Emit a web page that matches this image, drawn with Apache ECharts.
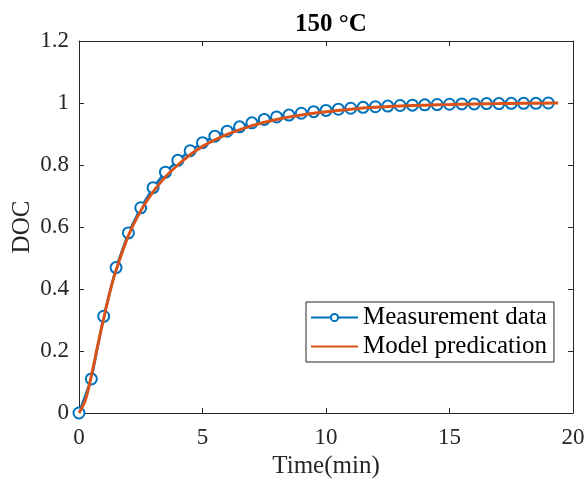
<!DOCTYPE html>
<html>
<head>
<meta charset="utf-8">
<script src="https://cdn.jsdelivr.net/npm/echarts@6/dist/echarts.min.js"></script>
<style>
  html, body { margin: 0; padding: 0; background: #fff; }
  #chart { width: 588px; height: 483px; }
</style>
</head>
<body>
<div id="chart"></div>
<script>
  // measurement data (every 0.5 min)
  const measTime = [0, 0.5, 1, 1.5, 2, 2.5, 3, 3.5, 4, 4.5, 5, 5.5, 6, 6.5, 7, 7.5, 8, 8.5, 9, 9.5,
    10, 10.5, 11, 11.5, 12, 12.5, 13, 13.5, 14, 14.5, 15, 15.5, 16, 16.5, 17, 17.5, 18, 18.5, 19]
  const measDoc = [0, 0.11, 0.312, 0.469, 0.581, 0.662, 0.727, 0.777, 0.815, 0.846, 0.872, 0.893, 0.909, 0.923, 0.936, 0.947, 0.955, 0.961, 0.967, 0.972,
    0.976, 0.98, 0.983, 0.986, 0.988, 0.99, 0.992, 0.993, 0.994, 0.995, 0.996, 0.997, 0.997, 0.998, 0.998, 0.999, 0.999, 0.999, 1.0]

  // model prediction curve
  const modelTime = [0, 0.25, 0.5, 0.75, 1, 1.25, 1.5, 2, 2.5, 3, 3.5, 4, 4.5, 5, 5.5, 6, 7, 8, 9, 10, 11, 12, 13, 14, 15, 16, 17, 18, 19.4]
  const modelDoc = [0, 0.04, 0.12, 0.215, 0.305, 0.39, 0.46, 0.572, 0.652, 0.713, 0.762, 0.8, 0.833, 0.86, 0.881, 0.899, 0.927, 0.947, 0.961, 0.972, 0.98, 0.986, 0.99, 0.993, 0.995, 0.997, 0.998, 0.999, 1.0]

  const xTicks = [0, 5, 10, 15, 20]
  const yTicks = [0, 0.2, 0.4, 0.6, 0.8, 1, 1.2]

  const font = 'Liberation Serif, Times New Roman, serif'
  const axisColor = '#262626'

  const chart = echarts.init(document.getElementById('chart'))

  const baseX = {
    type: 'value',
    min: xTicks[0],
    max: xTicks[xTicks.length - 1],
    interval: 5,
    splitLine: { show: false },
    axisLine: { show: true, onZero: false, lineStyle: { color: axisColor, width: 1 } },
    axisTick: { show: true, inside: true, length: 5, lineStyle: { color: axisColor } }
  }
  const baseY = {
    type: 'value',
    min: yTicks[0],
    max: yTicks[yTicks.length - 1],
    interval: 0.2,
    splitLine: { show: false },
    axisLine: { show: true, onZero: false, lineStyle: { color: axisColor, width: 1 } },
    axisTick: { show: true, inside: true, length: 5, lineStyle: { color: axisColor } }
  }

  chart.setOption({
    animation: false,
    backgroundColor: '#fff',
    title: {
      text: '150 °C',
      left: 326,
      top: 7,
      textAlign: 'center',
      textStyle: { fontFamily: font, fontSize: 25, fontWeight: 'bold', color: '#000' }
    },
    grid: { left: 79, right: 15, top: 41, bottom: 70, containLabel: false, outerBoundsMode: 'none' },
    legend: {
      orient: 'vertical',
      left: 306,
      top: 302,
      itemWidth: 47,
      itemHeight: 9,
      itemGap: 4,
      padding: [3, 7, 3, 4],
      borderColor: axisColor,
      borderWidth: 1,
      backgroundColor: '#fff',
      textStyle: { fontFamily: font, fontSize: 25, color: '#000' },
      data: [
        { name: 'Measurement data' },
        { name: 'Model predication', itemStyle: { opacity: 0 } }
      ]
    },
    xAxis: [
      Object.assign({}, baseX, {
        position: 'bottom',
        name: 'Time(min)',
        nameLocation: 'middle',
        nameGap: 41,
        nameMoveOverlap: false,
        nameTextStyle: { fontFamily: font, fontSize: 25, color: axisColor },
        axisLabel: { margin: 13, fontFamily: font, fontSize: 23, color: axisColor }
      }),
      Object.assign({}, baseX, { position: 'top', axisLabel: { show: false } })
    ],
    yAxis: [
      Object.assign({}, baseY, {
        position: 'left',
        name: 'DOC',
        nameLocation: 'middle',
        nameGap: 44,
        nameMoveOverlap: false,
        nameTextStyle: { fontFamily: font, fontSize: 25, color: axisColor },
        axisLabel: {
          margin: 10,
          fontFamily: font,
          fontSize: 23,
          color: axisColor,
          formatter: v => String(Math.round(v * 10) / 10)
        }
      }),
      Object.assign({}, baseY, { position: 'right', axisLabel: { show: false } })
    ],
    series: [
      {
        name: 'Measurement data',
        type: 'line',
        data: measTime.map((t, i) => [t, measDoc[i]]),
        symbol: 'emptyCircle',
        symbolSize: 11,
        lineStyle: { color: '#0072BD', width: 2.5 },
        itemStyle: { color: '#0072BD', borderColor: '#0072BD', borderWidth: 2.6 },
        z: 2
      },
      {
        name: 'Model predication',
        type: 'line',
        data: modelTime.map((t, i) => [t, modelDoc[i]]),
        smooth: 0.3,
        showSymbol: false,
        symbol: 'none',
        lineStyle: { color: '#D95319', width: 3 },
        itemStyle: { color: '#D95319' },
        z: 3
      }
    ]
  })
</script>
</body>
</html>
